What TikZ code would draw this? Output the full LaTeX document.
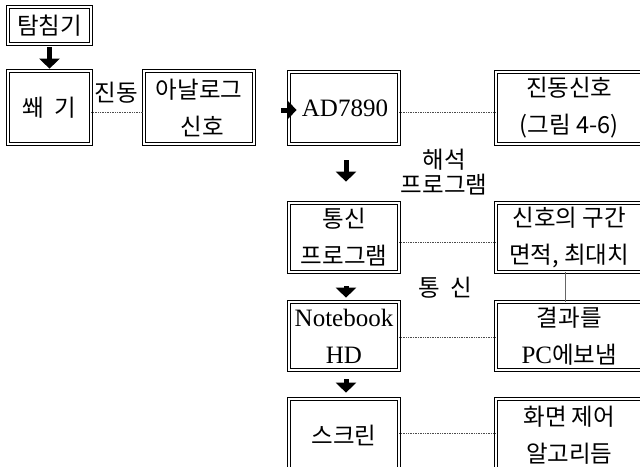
\documentclass[tikz,border=0pt]{standalone}
\usepackage{fontspec}
\setmainfont{Liberation Serif}
\newfontfamily\kr{Noto Sans CJK KR}
\usetikzlibrary{arrows.meta}
\newcommand\K[1]{{\kr\fontsize{23.5}{37}\selectfont #1}}
\tikzset{
  dbox/.style={draw, double, double distance=1.8pt, line width=0.7pt,
    inner sep=0pt, align=center, font=\fontsize{25}{37}\selectfont},
  lbl/.style={inner sep=0pt, align=center, font=\fontsize{25}{25}\selectfont},
  bigarrow/.style={line width=5pt, -{Triangle[length=10pt,width=20pt]}},
  dotline/.style={densely dotted, line width=0.7pt, black!70},
  solidline/.style={line width=0.7pt, black!60}
}
\begin{document}
\begin{tikzpicture}[x=1pt,y=-1pt]
\clip (0,0) rectangle (640,466);
\useasboundingbox (0,0) rectangle (640,466);
% left chain
\node[dbox, minimum width=83pt, minimum height=37pt] (tam) at (49.5,25.5) {\K{탐침기}};
\node[dbox, minimum width=83pt, minimum height=73pt] (wedge) at (49.5,107.5) {\K{쐐\ \ 기}};
\node[dbox, minimum width=110pt, minimum height=73pt] (analog) at (199,107.5) {\K{아날로그}\\\hspace*{6pt}\K{신호}};
% middle column
\node[dbox, minimum width=110pt, minimum height=72pt] (ad) at (344,108) {\hspace*{2pt}AD7890};
\node[dbox, minimum width=110pt, minimum height=69pt] (com) at (344,237.5) {\K{통신}\\\K{프로그램}};
\node[dbox, minimum width=110pt, minimum height=68pt] (nb) at (344,336) {Notebook\\HD};
\node[dbox, minimum width=110pt, minimum height=72pt] (scr) at (344,435) {\K{스크린}};
% right column
\node[dbox, minimum width=146.5pt, minimum height=72pt] (vib) at (569.25,108) {\K{진동신호}\\\K{(그림 4-6)}};
\node[dbox, minimum width=146.5pt, minimum height=69pt] (sig) at (569.25,237.5) {\K{신호의 구간}\\\K{면적, 최대치}};
\node[dbox, minimum width=146.5pt, minimum height=68pt] (res) at (569.25,336) {\K{결과를}\\PC\K{에보냄}};
\node[dbox, minimum width=146.5pt, minimum height=72pt] (alg) at (569.25,435) {\K{화면 제어}\\\K{알고리듬}};
% labels
\node[lbl] (lvib) at (116.5,93) {\K{진동}};
\node[lbl] (lana) at (444,172.5) {{\kr\fontsize{23.5}{25}\selectfont 해석}\\{\kr\fontsize{23.5}{25}\selectfont 프로그램}};
\node[lbl] (lcom) at (445,288) {\K{통\ \ 신}};
% arrows
\draw[bigarrow, shorten <=3pt, shorten >=2pt] (tam.south) -- (wedge.north);
\draw[bigarrow, shorten <=16pt, shorten >=21pt] ([xshift=2pt]ad.south) -- ([xshift=2pt]com.north);
\draw[bigarrow, shorten <=14pt, shorten >=4pt] ([xshift=2pt]com.south) -- ([xshift=2pt]nb.north);
\draw[bigarrow, shorten <=9pt, shorten >=6pt] ([xshift=2pt]nb.south) -- ([xshift=2pt]scr.north);
\coordinate (adin) at (281,110);
\draw[bigarrow, -{Triangle[length=9pt,width=18pt]}] (adin) -- ([xshift=8pt,yshift=-2pt]ad.west);
% dotted connectors
\draw[dotline] ([yshift=-4.5pt]wedge.east) -- ([yshift=-4.5pt]analog.west);
\draw[dotline] ([yshift=-4pt]ad.east) -- ([yshift=-4pt]vib.west);
\draw[dotline] ([yshift=-4.5pt]com.east) -- ([yshift=-4.5pt]sig.west);
\draw[dotline] ([yshift=-1pt]nb.east) -- ([yshift=-1pt]res.west);
\draw[dotline] ([yshift=2pt]scr.east) -- ([yshift=2pt]alg.west);
% solid connector
\draw[solidline] ([xshift=-4pt]sig.south) -- ([xshift=-4pt]res.north);
\end{tikzpicture}
\end{document}
